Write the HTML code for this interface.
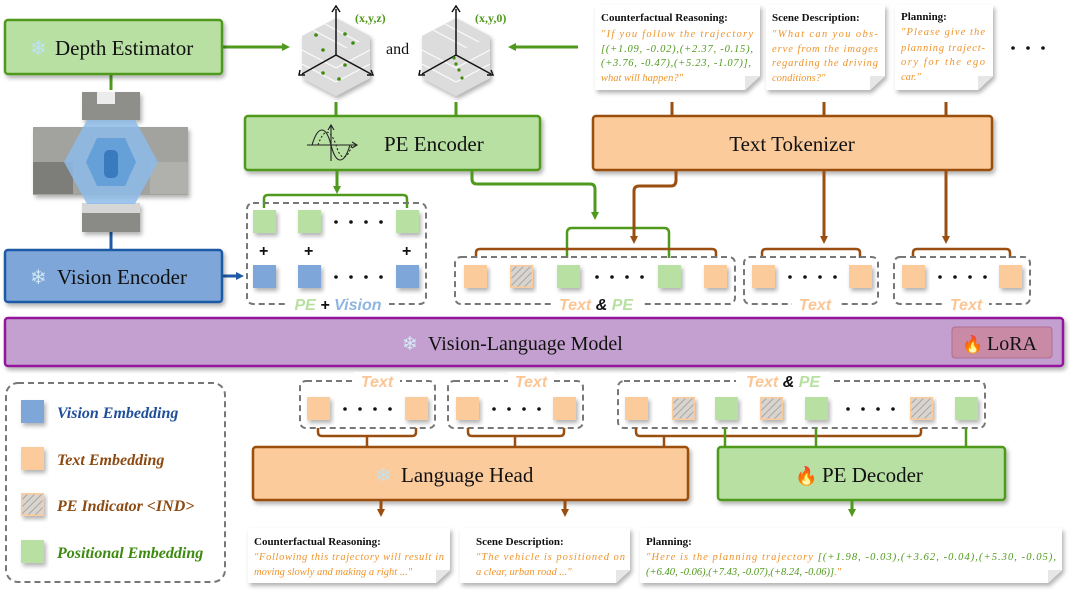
<!DOCTYPE html>
<html><head><meta charset="utf-8"><style>
html,body{margin:0;padding:0;background:#fff;}
svg{display:block;}
.serif{font-family:"Liberation Serif",serif;}
.sans{font-family:"Liberation Sans",sans-serif;}
</style></head><body>
<svg width="1080" height="596" viewBox="0 0 1080 596" xmlns="http://www.w3.org/2000/svg">
<defs>
<filter id="sh" x="-10%" y="-10%" width="130%" height="140%"><feDropShadow dx="2" dy="3" stdDeviation="2" flood-color="#000" flood-opacity="0.3"/></filter>
<pattern id="hatch" width="5" height="5" patternUnits="userSpaceOnUse" patternTransform="rotate(45)"><rect width="5" height="5" fill="#d8d4d0"/><line x1="0" y1="0" x2="0" y2="5" stroke="#a9a49f" stroke-width="2"/></pattern>
<marker id="ag" markerWidth="8" markerHeight="8" refX="4" refY="4" orient="auto" markerUnits="userSpaceOnUse"><path d="M0,0 L8,4 L0,8 Z" fill="#4f9a1c"/></marker>
<marker id="ab" markerWidth="8" markerHeight="8" refX="4" refY="4" orient="auto" markerUnits="userSpaceOnUse"><path d="M0,0 L8,4 L0,8 Z" fill="#9a4f10"/></marker>
<marker id="abl" markerWidth="8" markerHeight="8" refX="4" refY="4" orient="auto" markerUnits="userSpaceOnUse"><path d="M0,0 L8,4 L0,8 Z" fill="#1f5aa6"/></marker>
<g id="sqO"><rect width="23" height="23" fill="#fccb9c" filter="url(#sh)"/></g>
<g id="sqG"><rect width="23" height="23" fill="#b8e0a3" filter="url(#sh)"/></g>
<g id="sqB"><rect width="23" height="23" fill="#7ea6d8" filter="url(#sh)"/></g>
<g id="sqH"><rect x="0.75" y="0.75" width="21.5" height="21.5" fill="url(#hatch)" stroke="#fccb9c" stroke-width="1.5" filter="url(#sh)"/></g>
<g id="dots"><circle cx="0" cy="0" r="1.8" fill="#111"/><circle cx="15" cy="0" r="1.8" fill="#111"/><circle cx="30" cy="0" r="1.8" fill="#111"/><circle cx="45" cy="0" r="1.8" fill="#111"/></g>
</defs>

<line x1="222" y1="47" x2="286" y2="47" stroke="#4f9a1c" stroke-width="3" marker-end="url(#ag)"/>
<line x1="578" y1="47" x2="512" y2="47" stroke="#4f9a1c" stroke-width="3" marker-end="url(#ag)"/>
<line x1="111" y1="74" x2="111" y2="90" stroke="#4f9a1c" stroke-width="3"/>
<line x1="111" y1="232" x2="111" y2="250" stroke="#1f5aa6" stroke-width="3"/>
<line x1="336" y1="102" x2="336" y2="116" stroke="#4f9a1c" stroke-width="3"/>
<line x1="456" y1="102" x2="456" y2="116" stroke="#4f9a1c" stroke-width="3"/>
<line x1="672" y1="102" x2="672" y2="116" stroke="#9a4f10" stroke-width="3"/>
<line x1="824" y1="102" x2="824" y2="116" stroke="#9a4f10" stroke-width="3"/>
<line x1="946" y1="102" x2="946" y2="116" stroke="#9a4f10" stroke-width="3"/>
<line x1="222" y1="276" x2="240" y2="276" stroke="#1f5aa6" stroke-width="3" marker-end="url(#abl)"/>

<rect x="5" y="20" width="217" height="54" rx="3" fill="#b8e0a3" stroke="#4f9a1c" stroke-width="2.5" filter="url(#sh)"/>
<text x="30" y="55" font-size="20" fill="#bfe3f2" class="sans">❄</text>
<text x="55" y="55" font-size="21" class="serif" fill="#111">Depth Estimator</text>

<g filter="url(#sh)">
<rect x="82" y="92" width="58" height="28" fill="#8e8e8a"/>
<rect x="97" y="92" width="18" height="12" fill="#ececec"/>
<rect x="33" y="127" width="155" height="68" fill="#a2a29e"/>
<rect x="33" y="162" width="40" height="32" fill="#7d7d7a"/>
<rect x="150" y="162" width="38" height="32" fill="#b0b0ac"/>
<rect x="82" y="203" width="58" height="29" fill="#8a8a87"/>
<rect x="82" y="203" width="58" height="10" fill="#d6d6d6"/>
</g>
<polygon points="87,120 135,120 158,162 135,204 87,204 64,162" fill="#8dbbe8" opacity="0.85"/>
<polygon points="97,138 125,138 136,162 125,186 97,186 86,162" fill="#5b9ad8" opacity="0.8"/>
<rect x="104" y="150" width="14" height="28" rx="5" fill="#3a7bc0"/>

<rect x="5" y="250" width="217" height="52" rx="3" fill="#7ea6d8" stroke="#1f5aa6" stroke-width="2.5" filter="url(#sh)"/>
<text x="30" y="284" font-size="20" fill="#cfe6f5" class="sans">❄</text>
<text x="57" y="284" font-size="21" class="serif" fill="#111">Vision Encoder</text>

<g>
<polygon points="336,18 370,36 370,78 336,96 302,78 302,36" fill="#dcdcdc" filter="url(#sh)"/>
<g stroke="#fff" stroke-width="1.2" opacity="0.9">
<line x1="313" y1="30" x2="347" y2="48"/><line x1="325" y1="24" x2="359" y2="42"/>
<line x1="302" y1="50" x2="336" y2="68"/><line x1="302" y1="64" x2="336" y2="82"/>
<line x1="370" y1="50" x2="336" y2="68"/><line x1="370" y1="64" x2="336" y2="82"/>
</g>
<line x1="336" y1="55" x2="336" y2="9" stroke="#111" stroke-width="1.5"/>
<line x1="336" y1="55" x2="302" y2="74" stroke="#111" stroke-width="1.5"/>
<line x1="336" y1="55" x2="371" y2="74" stroke="#111" stroke-width="1.5"/>
<path d="M332,12 L336,6 L340,12 M300,70 L299,75 L305,75 M367,75 L373,75 L371,70" fill="none" stroke="#111" stroke-width="1.5"/>
<g fill="#3d8a0f"><circle cx="316" cy="35" r="1.8"/><circle cx="345" cy="34" r="1.8"/><circle cx="323" cy="50" r="1.8"/><circle cx="353" cy="43" r="1.8"/><circle cx="345" cy="65" r="1.8"/><circle cx="323" cy="73" r="1.8"/><circle cx="339" cy="79" r="1.8"/></g>
<text x="355" y="22" font-size="12" font-weight="bold" class="serif" fill="#4f9a1c">(x,y,z)</text>
</g>
<text x="386" y="54" font-size="16" class="serif" fill="#111">and</text>
<g>
<polygon points="456,18 490,36 490,78 456,96 422,78 422,36" fill="#dcdcdc" filter="url(#sh)"/>
<g stroke="#fff" stroke-width="1.2" opacity="0.9">
<line x1="433" y1="30" x2="467" y2="48"/><line x1="445" y1="24" x2="479" y2="42"/>
<line x1="422" y1="50" x2="456" y2="68"/><line x1="422" y1="64" x2="456" y2="82"/>
<line x1="490" y1="50" x2="456" y2="68"/><line x1="490" y1="64" x2="456" y2="82"/>
</g>
<line x1="456" y1="55" x2="456" y2="9" stroke="#111" stroke-width="1.5"/>
<line x1="456" y1="55" x2="422" y2="74" stroke="#111" stroke-width="1.5"/>
<line x1="456" y1="55" x2="491" y2="74" stroke="#111" stroke-width="1.5"/>
<path d="M452,12 L456,6 L460,12 M420,70 L419,75 L425,75 M487,75 L493,75 L491,70" fill="none" stroke="#111" stroke-width="1.5"/>
<g fill="#3d8a0f"><circle cx="454" cy="58" r="1.6"/><circle cx="456" cy="64" r="1.6"/><circle cx="459" cy="70" r="1.6"/><circle cx="462" cy="78" r="1.6"/></g>
<text x="475" y="22" font-size="12" font-weight="bold" class="serif" fill="#4f9a1c">(x,y,0)</text>
</g>

<g filter="url(#sh)">
<polygon points="595,5 760,5 760,76 745,90 595,90" fill="#fff"/>
<polygon points="766,5 885,5 885,76 870,90 766,90" fill="#fff"/>
<polygon points="895,5 993,5 993,76 978,90 895,90" fill="#fff"/>
</g>
<polygon points="745,90 760,76 745,76" fill="#e6e6e6"/>
<polygon points="870,90 885,76 870,76" fill="#e6e6e6"/>
<polygon points="978,90 993,76 978,76" fill="#e6e6e6"/>
<g class="serif" font-size="11">
<text x="601" y="21" font-weight="bold" fill="#111">Counterfactual Reasoning:</text>
<g font-style="italic" font-size="10.5">
<text x="601" y="37" fill="#f0942a" textLength="152" lengthAdjust="spacing">"If you follow the trajectory</text>
<text x="601" y="52" fill="#4f9a1c" textLength="152" lengthAdjust="spacing">[(+1.09, -0.02),(+2.37, -0.15),</text>
<text x="601" y="66" fill="#4f9a1c" textLength="150" lengthAdjust="spacing">(+3.76, -0.47),(+5.23, -1.07)],</text>
<text x="601" y="81" fill="#f0942a">what will happen?"</text>
</g>
<text x="772" y="21" font-weight="bold" fill="#111">Scene Description:</text>
<g font-style="italic" font-size="10.5" fill="#f0942a">
<text x="772" y="37" textLength="106" lengthAdjust="spacing">"What can you obs-</text>
<text x="772" y="52" textLength="106" lengthAdjust="spacing">erve from the images</text>
<text x="772" y="66" textLength="106" lengthAdjust="spacing">regarding the driving</text>
<text x="772" y="81">conditions?"</text>
</g>
<text x="901" y="20" font-weight="bold" fill="#111">Planning:</text>
<g font-style="italic" font-size="10.5" fill="#f0942a">
<text x="901" y="35" textLength="84" lengthAdjust="spacing">"Please give the</text>
<text x="901" y="51" textLength="84" lengthAdjust="spacing">planning traject-</text>
<text x="901" y="65" textLength="84" lengthAdjust="spacing">ory for the ego</text>
<text x="901" y="80">car."</text>
</g>
</g>
<g fill="#111"><circle cx="1013" cy="48" r="1.8"/><circle cx="1028" cy="48" r="1.8"/><circle cx="1043" cy="48" r="1.8"/></g>

<rect x="245" y="116" width="295" height="54" rx="3" fill="#b8e0a3" stroke="#4f9a1c" stroke-width="2.5" filter="url(#sh)"/>
<g fill="none" stroke="#222" stroke-width="1.1">
<line x1="307" y1="145" x2="356" y2="145"/><path d="M352,142 L357,145 L352,148"/>
<line x1="331" y1="126" x2="331" y2="161"/><path d="M328,130 L331,125 L334,130"/>
<path d="M312,145 C318,125 326,125 331,145 C336,165 344,165 350,145"/>
<path d="M318,145 C324,128 330,128 336,145 C341,162 347,160 352,145" stroke-dasharray="2,2"/>
</g>
<text x="384" y="151" font-size="21" class="serif" fill="#111">PE Encoder</text>

<rect x="593" y="116" width="399" height="54" rx="3" fill="#fccb9c" stroke="#9a4f10" stroke-width="2.5" filter="url(#sh)"/>
<text x="792" y="151" font-size="21" class="serif" fill="#111" text-anchor="middle">Text Tokenizer</text>

<line x1="337" y1="170" x2="337" y2="190" stroke="#4f9a1c" stroke-width="3" marker-end="url(#ag)"/>
<path d="M264,208 L264,199 Q264,195 268,195 L403,195 Q407,195 407,199 L407,208" fill="none" stroke="#4f9a1c" stroke-width="2.5"/>
<path d="M472,170 L472,179 Q472,184 477,184 L590,184 Q595,184 595,189 L595,216" fill="none" stroke="#4f9a1c" stroke-width="3" marker-end="url(#ag)"/>
<path d="M567,258 L567,233 Q567,228 572,228 L664,228 Q669,228 669,233 L669,258" fill="none" stroke="#4f9a1c" stroke-width="2.5"/>
<path d="M676,170 L676,180 Q676,186 671,186 L639,186 Q634,186 634,191 L634,240" fill="none" stroke="#9a4f10" stroke-width="3" marker-end="url(#ab)"/>
<path d="M476,258 L476,253 Q476,249 480,249 L712,249 Q716,249 716,253 L716,258" fill="none" stroke="#9a4f10" stroke-width="2.5"/>
<line x1="824" y1="170" x2="824" y2="240" stroke="#9a4f10" stroke-width="3" marker-end="url(#ab)"/>
<path d="M762,258 L762,253 Q762,249 766,249 L856,249 Q860,249 860,253 L860,258" fill="none" stroke="#9a4f10" stroke-width="2.5"/>
<line x1="946" y1="170" x2="946" y2="240" stroke="#9a4f10" stroke-width="3" marker-end="url(#ab)"/>
<path d="M913,258 L913,253 Q913,249 917,249 L1006,249 Q1010,249 1010,253 L1010,258" fill="none" stroke="#9a4f10" stroke-width="2.5"/>

<rect x="247" y="203" width="179" height="101" rx="6" fill="none" stroke="#777" stroke-width="2" stroke-dasharray="6,4"/>
<use href="#sqG" x="253" y="210"/><use href="#sqG" x="298" y="210"/><use href="#sqG" x="396" y="210"/>
<use href="#sqB" x="253" y="265"/><use href="#sqB" x="298" y="265"/><use href="#sqB" x="396" y="265"/>
<use href="#dots" x="336" y="222"/><use href="#dots" x="336" y="277"/>
<g font-size="16" font-weight="bold" class="sans" fill="#111"><text x="259" y="256">+</text><text x="304" y="256">+</text><text x="402" y="256">+</text></g>
<rect x="287" y="295" width="102" height="18" fill="#fff"/>
<text x="338" y="310" font-size="16" font-weight="bold" font-style="italic" class="sans" text-anchor="middle"><tspan fill="#b8e0a3">PE</tspan><tspan fill="#111"> + </tspan><tspan fill="#8fb5e2">Vision</tspan></text>

<rect x="455" y="257" width="280" height="47" rx="6" fill="none" stroke="#777" stroke-width="2" stroke-dasharray="6,4"/>
<use href="#sqO" x="464" y="265"/><use href="#sqH" x="510" y="265"/><use href="#sqG" x="557" y="265"/><use href="#sqG" x="658" y="265"/><use href="#sqO" x="704" y="265"/>
<use href="#dots" x="597" y="277"/>
<rect x="551" y="295" width="90" height="18" fill="#fff"/>
<text x="596" y="310" font-size="16" font-weight="bold" font-style="italic" class="sans" text-anchor="middle"><tspan fill="#fcc594">Text</tspan><tspan fill="#111"> &amp; </tspan><tspan fill="#b8e0a3">PE</tspan></text>

<rect x="744" y="257" width="134" height="47" rx="6" fill="none" stroke="#777" stroke-width="2" stroke-dasharray="6,4"/>
<use href="#sqO" x="752" y="265"/><use href="#sqO" x="849" y="265"/><use href="#dots" x="790" y="277"/>
<rect x="792" y="295" width="46" height="18" fill="#fff"/>
<text x="815" y="310" font-size="16" font-weight="bold" font-style="italic" class="sans" text-anchor="middle" fill="#fcc594">Text</text>

<rect x="894" y="257" width="136" height="47" rx="6" fill="none" stroke="#777" stroke-width="2" stroke-dasharray="6,4"/>
<use href="#sqO" x="902" y="265"/><use href="#sqO" x="999" y="265"/><use href="#dots" x="940" y="277"/>
<rect x="943" y="295" width="46" height="18" fill="#fff"/>
<text x="966" y="310" font-size="16" font-weight="bold" font-style="italic" class="sans" text-anchor="middle" fill="#fcc594">Text</text>

<rect x="5" y="318" width="1058" height="48" rx="3" fill="#c3a0cf" stroke="#93179c" stroke-width="2.5" filter="url(#sh)"/>
<text x="402" y="350" font-size="19" fill="#d4ecf7" class="sans">❄</text>
<text x="428" y="350" font-size="20" class="serif" fill="#111">Vision-Language Model</text>
<rect x="952" y="327" width="100" height="31" rx="3" fill="#c98aa6" stroke="#b06e90" stroke-width="1"/>
<text x="962" y="350" font-size="17" class="sans" fill="#f2541b">🔥</text>
<text x="987" y="350" font-size="20" class="serif" fill="#111">LoRA</text>

<rect x="6" y="383" width="219" height="199" rx="12" fill="none" stroke="#777" stroke-width="2" stroke-dasharray="6,4"/>
<use href="#sqB" x="21" y="400"/><use href="#sqO" x="21" y="447"/><use href="#sqH" x="21" y="493"/><use href="#sqG" x="21" y="540"/>
<g class="serif" font-size="16" font-weight="bold" font-style="italic">
<text x="57" y="418" fill="#1f4f9a">Vision Embedding</text>
<text x="57" y="465" fill="#8c4a12">Text Embedding</text>
<text x="57" y="511" fill="#8c4a12">PE Indicator &lt;IND&gt;</text>
<text x="57" y="558" fill="#3d8a0f">Positional Embedding</text>
</g>

<rect x="300" y="381" width="135" height="47" rx="6" fill="none" stroke="#777" stroke-width="2" stroke-dasharray="6,4"/>
<use href="#sqO" x="307" y="397"/><use href="#sqO" x="405" y="397"/><use href="#dots" x="345" y="409"/>
<rect x="354" y="372" width="46" height="18" fill="#fff"/>
<text x="377" y="387" font-size="16" font-weight="bold" font-style="italic" class="sans" text-anchor="middle" fill="#fcc594">Text</text>

<rect x="448" y="381" width="135" height="47" rx="6" fill="none" stroke="#777" stroke-width="2" stroke-dasharray="6,4"/>
<use href="#sqO" x="456" y="397"/><use href="#sqO" x="553" y="397"/><use href="#dots" x="494" y="409"/>
<rect x="508" y="372" width="46" height="18" fill="#fff"/>
<text x="531" y="387" font-size="16" font-weight="bold" font-style="italic" class="sans" text-anchor="middle" fill="#fcc594">Text</text>

<rect x="618" y="381" width="367" height="47" rx="6" fill="none" stroke="#777" stroke-width="2" stroke-dasharray="6,4"/>
<use href="#sqO" x="625" y="397"/><use href="#sqH" x="672" y="397"/><use href="#sqG" x="715" y="397"/><use href="#sqH" x="760" y="397"/><use href="#sqG" x="805" y="397"/><use href="#dots" x="848" y="409"/><use href="#sqH" x="910" y="397"/><use href="#sqG" x="955" y="397"/>
<rect x="736" y="372" width="94" height="18" fill="#fff"/>
<text x="783" y="387" font-size="16" font-weight="bold" font-style="italic" class="sans" text-anchor="middle"><tspan fill="#fcc594">Text</tspan><tspan fill="#111"> &amp; </tspan><tspan fill="#b8e0a3">PE</tspan></text>

<path d="M318,428 L318,432 Q318,436 322,436 L412,436 Q416,436 416,432 L416,428 M367,436 L367,447" fill="none" stroke="#9a4f10" stroke-width="2.5"/>
<path d="M468,428 L468,432 Q468,436 472,436 L560,436 Q564,436 564,432 L564,428 M515,436 L515,447" fill="none" stroke="#9a4f10" stroke-width="2.5"/>
<path d="M636,428 L636,432 Q636,436 640,436 L917,436 Q921,436 921,432 L921,428 M664,436 L664,447" fill="none" stroke="#9a4f10" stroke-width="2.5"/>
<g stroke="#4f9a1c" stroke-width="2.5"><line x1="725" y1="428" x2="725" y2="447"/><line x1="816" y1="428" x2="816" y2="447"/><line x1="966" y1="428" x2="966" y2="447"/></g>

<rect x="253" y="447" width="435" height="53" rx="3" fill="#fccb9c" stroke="#9a4f10" stroke-width="2.5" filter="url(#sh)"/>
<text x="375" y="482" font-size="20" fill="#bfe3f2" class="sans">❄</text>
<text x="401" y="482" font-size="21" class="serif" fill="#111">Language Head</text>
<rect x="718" y="447" width="287" height="53" rx="3" fill="#b8e0a3" stroke="#4f9a1c" stroke-width="2.5" filter="url(#sh)"/>
<text x="795" y="482" font-size="18" class="sans" fill="#f2541b">🔥</text>
<text x="822" y="482" font-size="21" class="serif" fill="#111">PE Decoder</text>

<line x1="381" y1="500" x2="381" y2="513" stroke="#9a4f10" stroke-width="3" marker-end="url(#ab)"/>
<line x1="565" y1="500" x2="565" y2="513" stroke="#9a4f10" stroke-width="3" marker-end="url(#ab)"/>
<line x1="852" y1="500" x2="852" y2="513" stroke="#4f9a1c" stroke-width="3" marker-end="url(#ag)"/>

<g filter="url(#sh)">
<polygon points="248,528 450,528 450,570 436,583 248,583" fill="#fff"/>
<polygon points="460,528 630,528 630,570 616,583 460,583" fill="#fff"/>
<polygon points="640,528 1062,528 1062,570 1048,583 640,583" fill="#fff"/>
</g>
<polygon points="436,583 450,570 436,570" fill="#e6e6e6"/>
<polygon points="616,583 630,570 616,570" fill="#e6e6e6"/>
<polygon points="1048,583 1062,570 1048,570" fill="#e6e6e6"/>
<g class="serif" font-size="11">
<text x="254" y="545" font-weight="bold" fill="#111">Counterfactual Reasoning:</text>
<g font-style="italic" font-size="10.5" fill="#f0942a">
<text x="254" y="560" textLength="190" lengthAdjust="spacing">"Following this trajectory will result in</text>
<text x="254" y="575">moving slowly and making a right ..."</text>
</g>
<text x="476" y="545" font-weight="bold" fill="#111">Scene Description:</text>
<g font-style="italic" font-size="10.5" fill="#f0942a">
<text x="476" y="560" textLength="149" lengthAdjust="spacing">"The vehicle is positioned on</text>
<text x="476" y="575">a clear, urban road ..."</text>
</g>
<text x="646" y="545" font-weight="bold" fill="#111">Planning:</text>
<g font-style="italic" font-size="10.5">
<text x="646" y="560" textLength="410" lengthAdjust="spacing"><tspan fill="#f0942a">"Here is the planning trajectory </tspan><tspan fill="#4f9a1c">[(+1.98, -0.03),(+3.62, -0.04),(+5.30, -0.05),</tspan></text>
<text x="646" y="575"><tspan fill="#4f9a1c">(+6.40, -0.06),(+7.43, -0.07),(+8.24, -0.06)]</tspan><tspan fill="#f0942a">."</tspan></text>
</g>
</g>
</svg>
</body></html>
